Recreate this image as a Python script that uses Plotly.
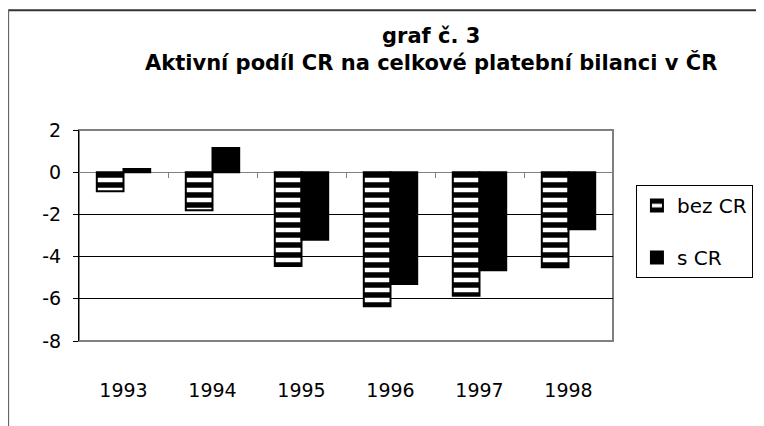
import plotly.graph_objects as go

years = ["1993", "1994", "1995", "1996", "1997", "1998"]
bez_cr = [-0.9, -1.8, -4.45, -6.35, -5.85, -4.5]
s_cr = [0.15, 1.15, -3.2, -5.3, -4.65, -2.7]
y_ticks = [2, 0, -2, -4, -6, -8]
y_tick_text = ["2", "0", "-2", "-4", "-6", "-8"]
title_lines = ["graf č. 3", "Aktivní podíl CR na celkové platební bilanci v ČR"]
series_names = ["bez CR", "s CR"]

FONT = "DejaVu Sans, Liberation Sans, Arial, sans-serif"

fig = go.Figure()
fig.add_trace(go.Bar(
    x=years, y=bez_cr, name=series_names[0], legendgroup="a",
    marker=dict(color="white", line=dict(color="black", width=2),
                pattern=dict(shape="-", fgcolor="black", bgcolor="white",
                             size=10, solidity=0.55, fillmode="replace")),
))
fig.add_trace(go.Bar(
    x=years, y=s_cr, name=series_names[1], legendgroup="b",
    marker=dict(color="black", line=dict(color="black", width=2)),
))
# invisible trace to carry the zero-line axis with boundary ticks
fig.add_trace(go.Scatter(x=[None], y=[None], xaxis="x2", yaxis="y",
                         showlegend=False, hoverinfo="skip"))

# page body has an 8px margin, so the figure is 8px smaller and shifted
fig.update_layout(
    width=756, height=418,
    margin=dict(l=71, r=150, t=122, b=85),
    paper_bgcolor="white", plot_bgcolor="white",
    font=dict(family=FONT, size=19, color="black"),
    barmode="group", bargap=0.4, bargroupgap=0,
    showlegend=True,
    legend=dict(x=1.041, xanchor="left", y=0.739, yanchor="top",
                bordercolor="black", borderwidth=1, bgcolor="white",
                font=dict(size=20), tracegroupgap=23,
                entrywidth=110, itemwidth=30),
    xaxis=dict(type="category", showline=False, ticks="", showgrid=False,
               tickfont=dict(size=19), ticklabelstandoff=36),
    xaxis2=dict(overlaying="x", anchor="free", position=0.8,
                range=[-0.5, 5.5], tickvals=[-0.5, 0.5, 1.5, 2.5, 3.5, 4.5, 5.5],
                showticklabels=False, ticks="outside", ticklen=5, tickwidth=1,
                tickcolor="#808080", showline=True, linecolor="#808080",
                linewidth=1, showgrid=False, zeroline=False, layer="below traces"),
    yaxis=dict(range=[-8, 2], tickvals=y_ticks, ticktext=y_tick_text,
               showgrid=True, gridcolor="black", gridwidth=1, zeroline=False,
               showline=True, linecolor="black", linewidth=1,
               ticks="outside", ticklen=5, tickcolor="black",
               tickfont=dict(size=19), ticklabelstandoff=8),
    annotations=[
        dict(text="<b>" + title_lines[0] + "</b><br><b>" + title_lines[1] + "</b>",
             xref="paper", yref="paper", x=0.66, y=1.38, xanchor="center",
             yanchor="middle", showarrow=False, font=dict(size=21)),
    ],
    shapes=[
        dict(type="rect", xref="paper", yref="paper", x0=0, x1=1, y0=0, y1=1,
             line=dict(color="#808080", width=2), layer="between"),
        dict(type="line", xref="paper", yref="paper", x0=-0.1327, x1=1.3, y0=1.568, y1=1.568,
             line=dict(color="#333333", width=2)),
        dict(type="line", xref="paper", yref="paper", x0=-0.1327, x1=-0.1327, y0=1.568, y1=-0.5,
             line=dict(color="#666666", width=2)),
    ],
)

fig.write_html("out.html")
